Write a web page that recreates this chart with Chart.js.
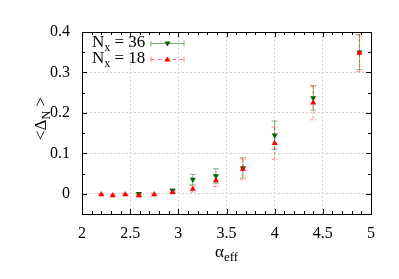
<!DOCTYPE html>
<html><head><meta charset="utf-8">
<script src="https://cdn.jsdelivr.net/npm/chart.js@4/dist/chart.umd.min.js"></script>
<style>html,body{margin:0;padding:0;background:#fff}#wrap{width:399px;height:279px}</style>
</head><body><div id="wrap"><canvas id="c" width="399" height="279"></canvas></div>
<script>
const alpha36 = [2.59, 2.94, 3.15, 3.39, 3.67, 4.0, 4.4, 4.88];
const delta36 = [0.000, 0.008, 0.035, 0.044, 0.064, 0.145, 0.237, 0.350];
const err36   = [0.003, 0.004, 0.013, 0.018, 0.025, 0.035, 0.030, 0.043];
const alpha18 = [2.2, 2.32, 2.45, 2.59, 2.75, 2.94, 3.15, 3.39, 3.67, 4.0, 4.4, 4.88];
const delta18 = [-0.002, -0.004, -0.002, -0.004, -0.002, 0.004, 0.012, 0.033, 0.061, 0.125, 0.225, 0.348];
const err18   = [0.002, 0.002, 0.002, 0.003, 0.003, 0.004, 0.008, 0.015, 0.025, 0.040, 0.042, 0.046];
const xTicks = [2, 2.5, 3, 3.5, 4, 4.5, 5];
const yTicks = [0, 0.1, 0.2, 0.3, 0.4];

const SERIF = '"Liberation Serif", "DejaVu Serif", serif';
function pts(xs, ys, es){ return xs.map((x,i)=>({x:x, y:ys[i], e:es[i]})); }

const errPlugin = {
  id:'errbars',
  beforeDatasetsDraw(chart){
    const ctx = chart.ctx, xs = chart.scales.x, ys = chart.scales.y;
    chart.data.datasets.forEach((ds,di)=>{
      ctx.save();
      ctx.strokeStyle = ds.errColor; ctx.lineWidth = 1;
      ctx.setLineDash(ds.errDash);
      ds.data.forEach(p=>{
        const px = xs.getPixelForValue(p.x);
        const y1 = ys.getPixelForValue(p.y + p.e), y2 = ys.getPixelForValue(p.y - p.e);
        ctx.beginPath();
        ctx.moveTo(px, y1); ctx.lineTo(px, y2);
        ctx.moveTo(px-3, y1); ctx.lineTo(px+3, y1);
        ctx.moveTo(px-3, y2); ctx.lineTo(px+3, y2);
        ctx.stroke();
      });
      ctx.restore();
    });
  },
  afterDraw(chart){
    const ctx = chart.ctx, xs = chart.scales.x, ys = chart.scales.y, a = chart.chartArea;
    ctx.save();
    ctx.strokeStyle = '#000'; ctx.lineWidth = 1; ctx.setLineDash([]);
    ctx.strokeRect(Math.round(a.left)+0.5, Math.round(a.top)+0.5, Math.round(a.right-a.left), Math.round(a.bottom-a.top));
    ctx.beginPath();
    for (let v = 2; v <= 5.0001; v += 0.1) {
      const px = Math.round(xs.getPixelForValue(v))+0.5;
      const major = Math.abs(v*2 - Math.round(v*2)) < 1e-6;
      const L = major ? 5 : 3;
      ctx.moveTo(px, a.bottom); ctx.lineTo(px, a.bottom - L);
      ctx.moveTo(px, a.top); ctx.lineTo(px, a.top + L);
    }
    for (let v = -0.05; v <= 0.4001; v += 0.05) {
      const py = Math.round(ys.getPixelForValue(v))+0.5;
      const major = Math.abs(v*10 - Math.round(v*10)) < 1e-6;
      const L = major ? 5 : 3;
      ctx.moveTo(a.left, py); ctx.lineTo(a.left + L, py);
      ctx.moveTo(a.right, py); ctx.lineTo(a.right - L, py);
    }
    ctx.stroke();

    // axis titles
    ctx.fillStyle = '#000';
    ctx.font = '17px ' + SERIF;
    ctx.textBaseline = 'alphabetic';
    const ax = 215, ay = 257;
    ctx.fillText('\u03b1', ax, ay);
    const aw = ctx.measureText('\u03b1').width;
    ctx.font = '13px ' + SERIF;
    ctx.fillText('eff', ax + aw, ay + 4);

    ctx.save();
    ctx.translate(46, 140);
    ctx.rotate(-Math.PI/2);
    ctx.font = '17px ' + SERIF;
    ctx.fillText('<\u0394', 0, 0);
    let w = ctx.measureText('<\u0394').width;
    ctx.font = '12px ' + SERIF;
    ctx.fillText('N', w, 4);
    w += ctx.measureText('N').width;
    ctx.font = '17px ' + SERIF;
    ctx.fillText(' >', w, 0);
    ctx.restore();

    // legend
    const entries = [
      {lab:'36', y:47, col:'#006400', errCol:'rgba(0,100,0,0.5)', dash:[], rot:180},
      {lab:'18', y:63, col:'#ff0000', errCol:'rgba(255,0,0,0.5)', dash:[4,3], rot:0}
    ];
    entries.forEach(e=>{
      ctx.font = '17px ' + SERIF;
      ctx.fillText('N', 92, e.y);
      let ww = ctx.measureText('N').width;
      ctx.font = '12px ' + SERIF;
      ctx.fillText('x', 92 + ww, e.y + 4);
      ww += ctx.measureText('x').width;
      ctx.font = '17px ' + SERIF;
      ctx.fillText(' = ' + e.lab, 92 + ww, e.y);
      const ly = Math.round(e.y - 4) + 0.5;
      ctx.strokeStyle = e.errCol; ctx.setLineDash(e.dash);
      ctx.beginPath();
      ctx.moveTo(151, ly); ctx.lineTo(184, ly);
      ctx.stroke();
      ctx.setLineDash([]);
      ctx.beginPath();
      ctx.moveTo(151, ly-3); ctx.lineTo(151, ly+3);
      ctx.moveTo(184, ly-3); ctx.lineTo(184, ly+3);
      ctx.stroke();
      ctx.fillStyle = e.col;
      ctx.beginPath();
      const cx = 167.5, cy = ly, r = 3.2;
      if (e.rot === 180) { ctx.moveTo(cx - r, cy - r*0.6); ctx.lineTo(cx + r, cy - r*0.6); ctx.lineTo(cx, cy + r*0.9); }
      else { ctx.moveTo(cx - r, cy + r*0.6); ctx.lineTo(cx + r, cy + r*0.6); ctx.lineTo(cx, cy - r*0.9); }
      ctx.closePath(); ctx.fill();
      ctx.fillStyle = '#000';
    });
    ctx.restore();
  }
};

new Chart(document.getElementById('c'), {
  type:'scatter',
  data:{ datasets:[
    { label:'Nx = 36', data: pts(alpha36, delta36, err36), pointStyle:'triangle', rotation:180,
      pointRadius:3.5, backgroundColor:'#006400', borderColor:'#006400', borderWidth:0, order:2,
      errColor:'rgba(0,100,0,0.45)', errDash:[] },
    { label:'Nx = 18', data: pts(alpha18, delta18, err18), pointStyle:'triangle', rotation:0,
      pointRadius:3.5, backgroundColor:'#ff0000', borderColor:'#ff0000', borderWidth:0, order:1,
      errColor:'rgba(255,0,0,0.45)', errDash:[3,2] }
  ]},
  options:{
    responsive:false, animation:false, devicePixelRatio:1,
    layout:{ padding:{ top:32, right:28, left:0, bottom:0 } },
    plugins:{ legend:{display:false}, tooltip:{enabled:false} },
    scales:{
      x:{ type:'linear', min:2, max:5,
        afterBuildTicks(s){ s.ticks = xTicks.map(v=>({value:v})); },
        afterFit(s){ s.height = 65; },
        grid:{ color:'#cfcfcf', drawTicks:false, tickLength:0 },
        border:{ display:false, dash:[2,2] },
        ticks:{ color:'#000', font:{family:SERIF, size:16}, padding:10, callback:v=>String(v), maxRotation:0 } },
      y:{ type:'linear', min:-0.05, max:0.4,
        afterBuildTicks(s){ s.ticks = yTicks.map(v=>({value:v})); },
        afterFit(s){ s.width = 82; },
        grid:{ color:'#cfcfcf', drawTicks:false, tickLength:0 },
        border:{ display:false, dash:[2,2] },
        ticks:{ color:'#000', font:{family:SERIF, size:16}, padding:12, callback:v=>String(+v.toFixed(2)) } }
    }
  },
  plugins:[errPlugin]
});
</script></body></html>
